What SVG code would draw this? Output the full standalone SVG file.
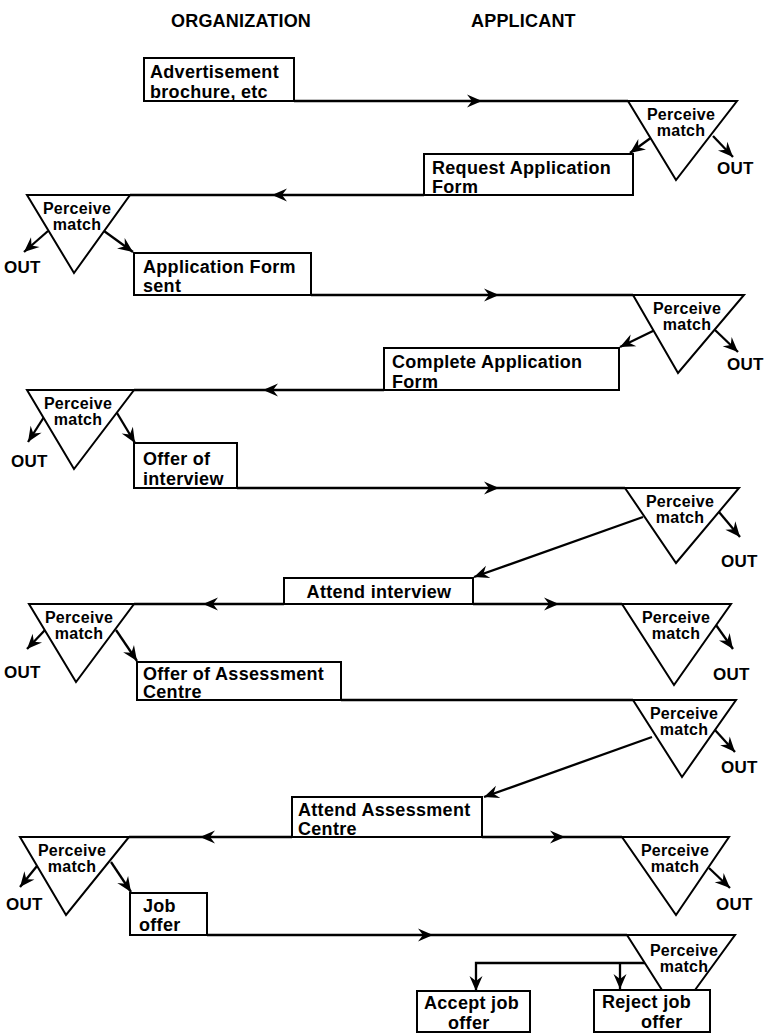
<svg xmlns="http://www.w3.org/2000/svg" width="772" height="1034" viewBox="0 0 772 1034">
<defs>
<marker id="ah" viewBox="-16 -7 17 14" markerWidth="17" markerHeight="14" refX="0" refY="0" orient="auto" markerUnits="userSpaceOnUse"><path d="M0,0 L-15,-6.5 L-10,0 L-15,6.5 Z" fill="#000"/></marker>
</defs>
<style>
.bx{fill:#fff;stroke:#000;stroke-width:2}
.tri{fill:#fff;stroke:#000;stroke-width:2;stroke-linejoin:miter}
.ln{fill:none;stroke:#000;stroke-width:2.3}
.t{font-family:"Liberation Sans",Arial,sans-serif;font-weight:bold;font-size:18px;letter-spacing:0.3px;fill:#000}
.pm{font-size:16px;letter-spacing:0.3px;text-anchor:middle}
.out{font-size:17px;letter-spacing:0.3px}
.hd{font-size:18px;letter-spacing:0.2px}
</style>
<rect width="772" height="1034" fill="#fff"/>
<g id="headers">
<text class="t hd" x="171" y="27">ORGANIZATION</text>
<text class="t hd" x="471" y="27">APPLICANT</text>
</g>
<g id="connectors">
<path class="ln" d="M294,101 L482,101 L628,101" marker-mid="url(#ah)"/>
<path class="ln" d="M424,195 L272,195 L130,195" marker-mid="url(#ah)"/>
<path class="ln" d="M311,295 L499,295 L633,295" marker-mid="url(#ah)"/>
<path class="ln" d="M384,390 L263,390 L134,390" marker-mid="url(#ah)"/>
<path class="ln" d="M237,488 L499,488 L625,488" marker-mid="url(#ah)"/>
<path class="ln" d="M284,604 L203,604 L134,604" marker-mid="url(#ah)"/>
<path class="ln" d="M473,604 L559,604 L622,604" marker-mid="url(#ah)"/>
<path class="ln" d="M341,700 L633,700"/>
<path class="ln" d="M292,837 L200,837 L129,837" marker-mid="url(#ah)"/>
<path class="ln" d="M482,837 L565,837 L622,837" marker-mid="url(#ah)"/>
<path class="ln" d="M207,935 L433,935 L627,935" marker-mid="url(#ah)"/>
<path class="ln" d="M652,137 L630,153" marker-end="url(#ah)"/>
<path class="ln" d="M713,136 L733,157" marker-end="url(#ah)"/>
<path class="ln" d="M48,231 L24,252" marker-end="url(#ah)"/>
<path class="ln" d="M104,231 L133,252" marker-end="url(#ah)"/>
<path class="ln" d="M655,330 L620,347" marker-end="url(#ah)"/>
<path class="ln" d="M715,330 L738,352" marker-end="url(#ah)"/>
<path class="ln" d="M44,417 L28,442" marker-end="url(#ah)"/>
<path class="ln" d="M117,413 L135,443" marker-end="url(#ah)"/>
<path class="ln" d="M643,517 L474,577" marker-end="url(#ah)"/>
<path class="ln" d="M719,512 L740,537" marker-end="url(#ah)"/>
<path class="ln" d="M45,630 L27,649" marker-end="url(#ah)"/>
<path class="ln" d="M116,630 L137,661" marker-end="url(#ah)"/>
<path class="ln" d="M716,625 L733,649" marker-end="url(#ah)"/>
<path class="ln" d="M715,730 L735,752" marker-end="url(#ah)"/>
<path class="ln" d="M652,737 L484,797" marker-end="url(#ah)"/>
<path class="ln" d="M37,866 L20,887" marker-end="url(#ah)"/>
<path class="ln" d="M111,862 L131,892" marker-end="url(#ah)"/>
<path class="ln" d="M709,868 L730,888" marker-end="url(#ah)"/>
<path class="ln" d="M645,963 L476,963 L476,991" marker-end="url(#ah)"/>
<path class="ln" d="M620,963 L620,989" marker-end="url(#ah)"/>
</g>
<g id="advert">
<rect class="bx" x="144" y="58" width="150" height="43"/>
<text class="t" x="150" y="78">Advertisement</text>
<text class="t" x="150" y="98">brochure, etc</text>
</g>
<g id="pm-a1">
<polygon class="tri" points="628,101 737,101 676,180"/>
<text class="t pm" x="681" y="120">Perceive</text>
<text class="t pm" x="681" y="136">match</text>
<text class="t out" x="717" y="174">OUT</text>
</g>
<g id="request-form">
<rect class="bx" x="424" y="154" width="209" height="41"/>
<text class="t" x="432" y="174">Request Application</text>
<text class="t" x="432" y="193">Form</text>
</g>
<g id="pm-o1">
<polygon class="tri" points="27,195 130,195 74,273"/>
<text class="t pm" x="77" y="214">Perceive</text>
<text class="t pm" x="77" y="230">match</text>
<text class="t out" x="4" y="273">OUT</text>
</g>
<g id="form-sent">
<rect class="bx" x="134" y="253" width="177" height="42"/>
<text class="t" x="143" y="273">Application Form</text>
<text class="t" x="143" y="292">sent</text>
</g>
<g id="pm-a2">
<polygon class="tri" points="633,295 744,295 678,373"/>
<text class="t pm" x="687" y="314">Perceive</text>
<text class="t pm" x="687" y="330">match</text>
<text class="t out" x="727" y="370">OUT</text>
</g>
<g id="complete-form">
<rect class="bx" x="384" y="348" width="235" height="42"/>
<text class="t" x="392" y="368">Complete Application</text>
<text class="t" x="392" y="388">Form</text>
</g>
<g id="pm-o2">
<polygon class="tri" points="27,390 134,390 74,469"/>
<text class="t pm" x="78" y="409">Perceive</text>
<text class="t pm" x="78" y="425">match</text>
<text class="t out" x="11" y="467">OUT</text>
</g>
<g id="offer-interview">
<rect class="bx" x="134" y="443" width="103" height="45"/>
<text class="t" x="143" y="465">Offer of</text>
<text class="t" x="143" y="485">interview</text>
</g>
<g id="pm-a3">
<polygon class="tri" points="625,488 739,488 676,563"/>
<text class="t pm" x="680" y="507">Perceive</text>
<text class="t pm" x="680" y="523">match</text>
<text class="t out" x="721" y="567">OUT</text>
</g>
<g id="attend-interview">
<rect class="bx" x="284" y="578" width="189" height="26"/>
<text class="t" x="379" y="598" text-anchor="middle">Attend interview</text>
</g>
<g id="pm-o3">
<polygon class="tri" points="29,604 134,604 76,682"/>
<text class="t pm" x="79" y="623">Perceive</text>
<text class="t pm" x="79" y="639">match</text>
<text class="t out" x="4" y="678">OUT</text>
</g>
<g id="pm-a4">
<polygon class="tri" points="622,604 731,604 674,685"/>
<text class="t pm" x="676" y="623">Perceive</text>
<text class="t pm" x="676" y="639">match</text>
<text class="t out" x="713" y="680">OUT</text>
</g>
<g id="offer-assessment">
<rect class="bx" x="137" y="662" width="204" height="38"/>
<text class="t" x="143" y="680">Offer of Assessment</text>
<text class="t" x="143" y="698">Centre</text>
</g>
<g id="pm-a5">
<polygon class="tri" points="633,700 736,700 682,777"/>
<text class="t pm" x="684" y="719">Perceive</text>
<text class="t pm" x="684" y="735">match</text>
<text class="t out" x="721" y="773">OUT</text>
</g>
<g id="attend-assessment">
<rect class="bx" x="292" y="797" width="190" height="40"/>
<text class="t" x="298" y="816">Attend Assessment</text>
<text class="t" x="298" y="835">Centre</text>
</g>
<g id="pm-o4">
<polygon class="tri" points="20,837 129,837 66,915"/>
<text class="t pm" x="72" y="856">Perceive</text>
<text class="t pm" x="72" y="872">match</text>
<text class="t out" x="6" y="910">OUT</text>
</g>
<g id="pm-a6">
<polygon class="tri" points="622,837 729,837 676,915"/>
<text class="t pm" x="675" y="856">Perceive</text>
<text class="t pm" x="675" y="872">match</text>
<text class="t out" x="716" y="910">OUT</text>
</g>
<g id="job-offer">
<rect class="bx" x="130" y="893" width="77" height="42"/>
<text class="t" x="143" y="912">Job</text>
<text class="t" x="139" y="931">offer</text>
</g>
<g id="pm-a7">
<polyline class="tri" points="662,990 627,935 735,935 695,990" fill="#fff"/>
<text class="t pm" x="684" y="956">Perceive</text>
<text class="t pm" x="684" y="972">match</text>
</g>
<g id="accept">
<rect class="bx" x="417" y="991" width="113" height="41"/>
<text class="t" x="424" y="1009">Accept job</text>
<text class="t" x="448" y="1029">offer</text>
</g>
<g id="reject">
<rect class="bx" x="594" y="990" width="116" height="42"/>
<text class="t" x="602" y="1008">Reject job</text>
<text class="t" x="641" y="1028">offer</text>
</g>
</svg>
